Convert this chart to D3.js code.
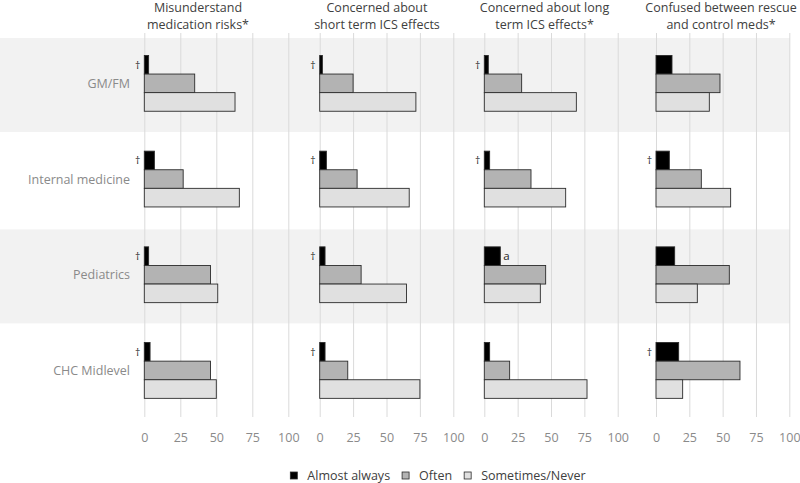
<!DOCTYPE html>
<html lang="en">
<head>
    <meta charset="UTF-8">
    <title>Provider perceptions by specialty</title>
    <script src="https://d3js.org/d3.v7.min.js"></script>
    <style>
        body { margin: 0; background: #fff; }
        text { font-family: "Open Sans", sans-serif; }
    </style>
</head>
<body>
    <svg width="800" height="483"></svg>

    <script>
        // Data (percent of respondents), indexed [panel][specialty]
        const categories = ["GM/FM", "Internal medicine", "Pediatrics", "CHC Midlevel"];
        const panelTitles = [
            ["Misunderstand", "medication risks*"],
            ["Concerned about", "short term ICS effects"],
            ["Concerned about long", "term ICS effects*"],
            ["Confused between rescue", "and control meds*"]
        ];
        const seriesNames = ["Almost always", "Often", "Sometimes/Never"];
        const almostAlways = [
            [3, 7, 3, 4],
            [2, 5, 4, 4],
            [3, 4, 12, 4],
            [12, 10, 14, 17]
        ];
        const often = [
            [35, 27, 46, 46],
            [25, 28, 31, 21],
            [28, 35, 46, 19],
            [48, 34, 55, 63]
        ];
        const sometimesNever = [
            [63, 66, 51, 50],
            [72, 67, 65, 75],
            [69, 61, 42, 77],
            [40, 56, 31, 20]
        ];
        // marks next to the "Almost always" bar
        const markers = [
            ["†", "†", "†", "†"],
            ["†", "†", "†", "†"],
            ["†", "†", "a", ""],
            ["", "†", "", "†"]
        ];
        const tickValues = [0, 25, 50, 75, 100];

        // Layout
        const panelRanges = [[144.3, 288.3], [319.7, 453.3], [484.3, 617.7], [656, 789.3]];
        const titleCenters = [198, 377, 544.5, 721];
        const gridTop = 33, gridBottom = 417;
        const colors = ["#000000", "#b3b3b3", "#e0e0e0"];
        const seriesValues = [almostAlways, often, sometimesNever];

        const svg = d3.select("svg");

        const y = d3.scaleBand()
            .domain(categories)
            .range([35.5, 418.3]);

        const barH = 18.6;
        const ySeries = d3.scaleBand()
            .domain(seriesNames)
            .range([y.bandwidth() / 2 - barH * 1.5, y.bandwidth() / 2 + barH * 1.5]);

        // Alternating row shading
        svg.append("g")
            .selectAll("rect")
            .data(categories.filter((d, i) => i % 2 === 0))
            .join("rect")
            .attr("x", 0)
            .attr("y", d => y(d) + 2.5)
            .attr("width", 790)
            .attr("height", 94)
            .attr("fill", "#f2f2f2");

        // Row labels
        svg.append("g")
            .selectAll("text")
            .data(categories)
            .join("text")
            .attr("x", 130)
            .attr("y", d => y(d) + y.bandwidth() / 2 + 4.5)
            .attr("text-anchor", "end")
            .attr("font-size", "12.5px")
            .attr("fill", "#8a8a8a")
            .text(d => d);

        panelRanges.forEach((range, p) => {
            const x = d3.scaleLinear().domain([0, 100]).range(range);

            // Axis with gridlines
            const axis = svg.append("g")
                .attr("transform", `translate(0, ${gridBottom})`)
                .call(d3.axisBottom(x)
                    .tickValues(tickValues)
                    .tickSize(-(gridBottom - gridTop))
                    .tickPadding(15.8));
            axis.select(".domain").remove();
            axis.selectAll(".tick line").attr("stroke", "#dadada");
            axis.selectAll(".tick text")
                .attr("fill", "#8a8a8a")
                .attr("font-size", "12.5px")
                .attr("font-family", "Open Sans, sans-serif");

            // Title
            svg.append("text")
                .attr("x", titleCenters[p])
                .attr("y", 11.5)
                .attr("text-anchor", "middle")
                .attr("font-size", "12.5px")
                .attr("fill", "#404040")
                .selectAll("tspan")
                .data(panelTitles[p])
                .join("tspan")
                .attr("x", titleCenters[p])
                .attr("dy", (d, i) => i === 0 ? 0 : 17.5)
                .text(d => d);

            // Bars
            const g = svg.append("g");
            seriesNames.forEach((s, si) => {
                g.selectAll(null)
                    .data(categories)
                    .join("rect")
                    .attr("x", x(0))
                    .attr("y", d => y(d) + ySeries(s))
                    .attr("width", (d, ci) => x(seriesValues[si][p][ci]) - x(0))
                    .attr("height", ySeries.bandwidth())
                    .attr("fill", colors[si])
                    .attr("stroke", "#2b2b2b")
                    .attr("stroke-width", 0.9);
            });

            // Markers
            g.selectAll("text.mark")
                .data(categories)
                .join("text")
                .attr("class", "mark")
                .attr("x", (d, ci) => markers[p][ci] === "a"
                    ? x(almostAlways[p][ci]) + 3
                    : x(0) - 4)
                .attr("y", d => y(d) + ySeries(seriesNames[0]) + ySeries.bandwidth() / 2 + 4)
                .attr("text-anchor", (d, ci) => markers[p][ci] === "a" ? "start" : "end")
                .attr("font-family", (d, ci) => markers[p][ci] === "a" ? "Open Sans, sans-serif" : "DejaVu Sans, sans-serif")
                .attr("font-size", (d, ci) => markers[p][ci] === "a" ? "11.5px" : "10.5px")
                .attr("fill", "#262626")
                .text((d, ci) => markers[p][ci]);
        });

        // Legend
        const legend = svg.append("g");
        let lx = 0;
        seriesNames.forEach((s, i) => {
            legend.append("rect")
                .attr("x", lx)
                .attr("y", 472)
                .attr("width", 7)
                .attr("height", 7)
                .attr("fill", colors[i])
                .attr("stroke", "#2b2b2b")
                .attr("stroke-width", 0.8);
            const t = legend.append("text")
                .attr("x", lx + 17)
                .attr("y", 479.5)
                .attr("font-size", "12.5px")
                .attr("fill", "#404040")
                .text(s);
            lx += 17 + t.node().getComputedTextLength() + 12;
        });
        const legendWidth = lx - 12;
        legend.attr("transform", `translate(${438 - legendWidth / 2}, 0)`);
    </script>
</body>
</html>
